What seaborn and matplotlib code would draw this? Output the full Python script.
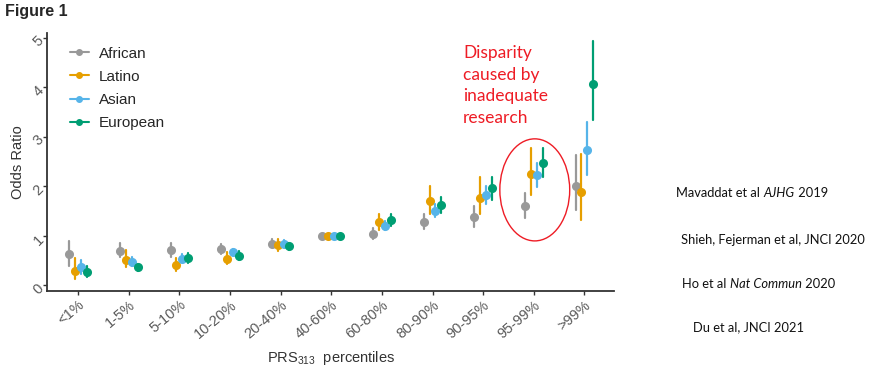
import numpy as np
import pandas as pd
import matplotlib
matplotlib.use("Agg")
import matplotlib.pyplot as plt
from matplotlib.lines import Line2D
from matplotlib.patches import Ellipse
import seaborn as sns

sns.set_style("ticks")
plt.rcParams["font.family"] = ["Liberation Sans", "DejaVu Sans"]
plt.rcParams["mathtext.fontset"] = "custom"
plt.rcParams["mathtext.rm"] = "Liberation Sans"

percentiles = ["<1%", "1-5%", "5-10%", "10-20%", "20-40%", "40-60%",
               "60-80%", "80-90%", "90-95%", "95-99%", ">99%"]
groups = ["African", "Latino", "Asian", "European"]
colors = ["#999999", "#E69F00", "#56B4E9", "#009E73"]

# odds ratio with lower / upper limits
african_or = [0.63, 0.70, 0.71, 0.73, 0.84, 1.0, 1.04, 1.29, 1.38, 1.61, 2.01]
african_lo = [0.40, 0.57, 0.58, 0.64, 0.77, 0.98, 0.93, 1.14, 1.18, 1.37, 1.52]
african_hi = [0.90, 0.86, 0.86, 0.84, 0.94, 1.02, 1.16, 1.45, 1.61, 1.87, 2.64]

latino_or = [0.30, 0.52, 0.42, 0.54, 0.82, 1.0, 1.28, 1.71, 1.77, 2.25, 1.89]
latino_lo = [0.14, 0.38, 0.29, 0.44, 0.69, 0.98, 1.12, 1.44, 1.44, 1.83, 1.32]
latino_hi = [0.56, 0.71, 0.56, 0.67, 0.94, 1.02, 1.45, 2.01, 2.18, 2.77, 2.65]

asian_or = [0.38, 0.48, 0.54, 0.68, 0.84, 1.0, 1.21, 1.51, 1.83, 2.23, 2.74]
asian_lo = [0.24, 0.40, 0.47, 0.62, 0.77, 0.98, 1.12, 1.38, 1.64, 1.98, 2.23]
asian_hi = [0.52, 0.57, 0.63, 0.74, 0.92, 1.02, 1.31, 1.64, 2.01, 2.48, 3.31]

european_or = [0.27, 0.37, 0.56, 0.60, 0.79, 1.0, 1.33, 1.63, 1.96, 2.48, 4.06]
european_lo = [0.17, 0.29, 0.45, 0.52, 0.72, 0.98, 1.21, 1.47, 1.72, 2.19, 3.34]
european_hi = [0.39, 0.44, 0.65, 0.69, 0.86, 1.02, 1.45, 1.79, 2.19, 2.78, 4.93]

series = {
    "African": (african_lo, african_or, african_hi),
    "Latino": (latino_lo, latino_or, latino_hi),
    "Asian": (asian_lo, asian_or, asian_hi),
    "European": (european_lo, european_or, european_hi),
}

# three rows per point: median -> estimate, full range -> interval
rows = []
for grp, (lo, est, hi) in series.items():
    for i, pct in enumerate(percentiles):
        for val in (lo[i], est[i], hi[i]):
            rows.append({"percentile": pct, "group": grp, "odds": val})
df = pd.DataFrame(rows)

fig = plt.figure(figsize=(8.75, 3.73), dpi=100)
ax = fig.add_axes([0.054, 0.22, 0.648, 0.692])

sns.pointplot(
    data=df, x="percentile", y="odds", hue="group",
    order=percentiles, hue_order=groups, palette=colors,
    estimator="median", errorbar=("pi", 100), dodge=0.35,
    linestyle="none", markers="o", markersize=4.5,
    err_kws={"linewidth": 1.6}, ax=ax,
)

ax.set_xlim(-0.61, 10.59)
ax.set_ylim(-0.11, 5.1)
ax.set_yticks([0, 1, 2, 3, 4, 5])
sns.despine(ax=ax)
for side in ["left", "bottom"]:
    ax.spines[side].set_linewidth(1.3)
    ax.spines[side].set_color("#333333")
ax.tick_params(axis="both", length=3, width=1, color="#333333",
               labelcolor="#5a5a5a", labelsize=10.5, pad=2)
plt.setp(ax.get_xticklabels(), rotation=40, ha="right", rotation_mode="anchor")
plt.setp(ax.get_yticklabels(), rotation=45, ha="right", rotation_mode="anchor")
ax.set_xlabel(r"PRS$_{313}$  percentiles", fontsize=10.5, color="#333333", labelpad=6)
ax.set_ylabel("Odds Ratio", fontsize=10.5, color="#333333", labelpad=4)

handles = [Line2D([], [], color=c, marker="o", markersize=4, linewidth=1.5)
           for c in colors]
ax.legend(handles, groups, loc="upper left", bbox_to_anchor=(0.015, 1.0),
          frameon=False, fontsize=11, handlelength=1.3, labelspacing=0.6,
          handletextpad=0.6)

ax.add_patch(Ellipse((9.02, 1.93), 1.38, 2.06, fill=False,
                     edgecolor="#ee1c25", linewidth=1.0))
ax.text(7.6, 4.86, "Disparity\ncaused by\ninadequate\nresearch", color="#ee1c25",
        fontsize=12.5, family=["Lato", "DejaVu Sans"], va="top", ha="left",
        linespacing=1.45)

fig.text(0.006, 0.99, "Figure 1", fontsize=11.5, fontweight="bold", va="top")

cite_style = dict(fontsize=9.3, family=["Lato", "DejaVu Sans"], color="#111111",
                  va="center", ha="left")


def cite(x, y, parts):
    prev = None
    for text, italic in parts:
        style = "italic" if italic else "normal"
        if prev is None:
            prev = fig.text(x, y, text, style=style, **cite_style)
        else:
            prev = ax.annotate(text, xy=(1, 0.5), xycoords=prev, style=style,
                               annotation_clip=False, **cite_style)


cite(0.773, 0.483, [("Mavaddat et al ", False), ("AJHG", True), (" 2019", False)])
cite(0.778, 0.357, [("Shieh, Fejerman et al, JNCI 2020", False)])
cite(0.780, 0.239, [("Ho et al ", False), ("Nat Commun", True), (" 2020", False)])
cite(0.792, 0.124, [("Du et al, JNCI 2021", False)])

fig.savefig("out.png", dpi=100)
